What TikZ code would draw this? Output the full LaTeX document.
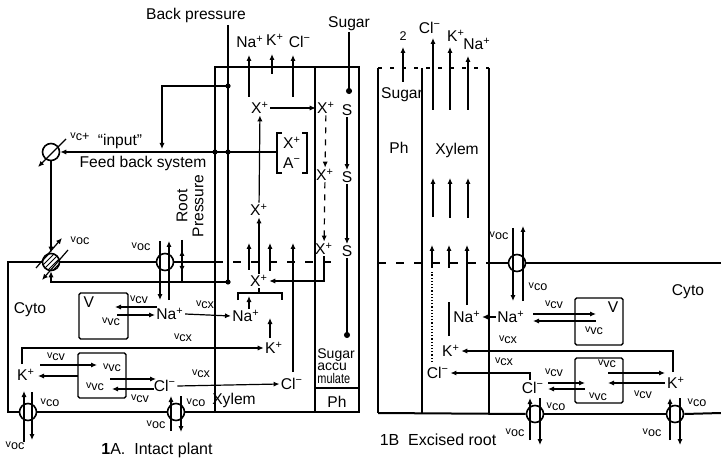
\documentclass[tikz,border=0pt]{standalone}
\usepackage{fontspec}
\setmainfont{Liberation Sans}
\usetikzlibrary{arrows.meta,positioning,calc}

\tikzset{
  wall/.style={line width=1pt},
  flow/.style={line width=0.6pt,-{Latex[length=3pt,width=2.6pt]}},
  chan/.style={circle,draw,line width=0.8pt,minimum size=8.5pt,inner sep=0pt},
  vac/.style={draw,line width=0.7pt,rounded corners=0.8pt},
  lbl/.style={font=\fontsize{7.8}{8}\selectfont,inner sep=0.5pt},
  ion/.style={font=\fontsize{7.8}{8}\selectfont,inner sep=0.5pt},
  flux/.style={font=\fontsize{6.3}{7}\selectfont,inner sep=0.3pt},
}
\newcommand{\fx}[1]{\raisebox{0.35ex}{\scalebox{0.85}{v}}#1}
\newcommand{\pls}{\textsuperscript{+}}
\newcommand{\mns}{\textsuperscript{−}}

\begin{document}
\begin{tikzpicture}[x=0.5pt,y=-0.5pt]
\useasboundingbox (0,0) rectangle (721,464);

% ---------------- 1A: intact plant ----------------
% stele: xylem and phloem
\draw[wall] (215,412) -- (215,67) -- (359,67) -- (359,412) -- cycle;
\draw[wall] (315,67) -- (315,412);
\draw[line width=0.6pt] (315,388) -- (359,388);

% plasmalemma with carriers
\node[chan] (cF) at (51,152) {};
\node[chan] (cL) at (51,262) {};
\node[chan] (cNa) at (165,262) {};
\node[chan] (cK) at (28,412) {};
\node[chan] (cCl) at (176,412) {};
\draw[wall] (cL.west) -- (8,262) -- (8,412) -- (cK.west);
\draw[wall] (cL.east) -- (cNa.west);
\draw[wall] (cNa.east) -- (215,262);
\draw[wall,dash pattern=on 4pt off 5pt] (215,262) -- (335,262);
\draw[wall] (cK.east) -- (cCl.west);
\draw[wall] (cCl.east) -- (215,412);

% back pressure and feed back
\node[lbl] (bp) at (196,15) {Back pressure};
\draw[wall] (228,25) -- (228,282);
\foreach \y in {86,152,282} \fill (228,\y) circle (1.3pt);
\fill (215,152) circle (1.3pt);
\draw[flow] (228,86) -- (162,86) -- (162,149);
\draw[flow,line width=0.8pt] (277,152) -- (cF.east);
\node[ion] (xa1) at (292,143) {X\pls};
\node[ion] (aa1) at (292,163) {A\mns};
\draw[line width=0.7pt] (282,133) -- (277,133) -- (277,173) -- (282,173);
\draw[line width=0.7pt] (302,133) -- (307,133) -- (307,173) -- (302,173);
\draw[flow] (66,139) -- (38,167);
\node[flux] (fcp) at (80,137) {\fx{c+}};
\node[lbl] (inp) at (120,141) {``input''};
\node[lbl] (fbs) at (143,163) {Feed back system};
\draw[flow] (cF.south) -- (cL.north);

% hatched carrier
\begin{scope}
  \clip (cL.center) circle (4.25pt);
  \foreach \d in {-10,-5,0,5,10}
    \draw[line width=0.5pt] ($(cL.center)+(\d-12,12)$) -- ++(24,-24);
\end{scope}
\draw[flow] (36,268) -- (62,238);
\draw[flow] (68,250) -- (42,280);
\node[flux] (foc1) at (80,241) {\fx{oc}};

% root pressure
\node[lbl,rotate=90,align=center] (rp) at (190,206) {Root\\Pressure};
\draw[line width=0.6pt] (182,240) -- (182,282);
\draw[flow] (182,262) -- (182,250);
\draw[flow] (182,262) -- (182,272);
\draw[flow] (228,282) -- (51,282) -- (cL.south);

% Na+ uptake
\draw[flow] (160,241) -- (160,300);
\draw[flow] (169,300) -- (169,241);
\node[flux] (foc2) at (141,247) {\fx{oc}};
\node[lbl] (cyto1) at (30,310) {Cyto};
\node[ion] (naC) at (170,314) {Na\pls};
\node[ion] (naX) at (246,316) {Na\pls};
\draw[flow] (naC.east) -- (naX.west);
\node[flux] (fcx1) at (205,305) {\fx{cx}};

% vacuole, Na+
\node[vac,minimum width=24.5pt,minimum height=23pt] (vac1) at (103.5,316) {};
\node[lbl,anchor=north west] (v1) at ($(vac1.north west)+(4,3)$) {V};
\draw[flow] (157,307) -- (115,307);
\draw[flow] (117,315) -- (155,315);
\node[flux] (fcv1) at (139,300) {\fx{cv}};
\node[flux] (fvc1) at (111,322) {\fx{vc}};

% K+ and Cl-
\node[ion] (kC) at (26,375) {K\pls};
\node[ion] (kX) at (274,348) {K\pls};
\draw[flow] (22,364) |- (kX.west);
\node[flux] (fcx2) at (183,338) {\fx{cx}};
\node[vac,minimum width=24pt,minimum height=22.5pt] (vac2) at (102,375.5) {};
\draw[flow] (40,365) -- (97,365);
\draw[flow] (78,376) -- (38,376);
\node[flux] (fcv2) at (56,357) {\fx{cv}};
\node[flux] (fvc2) at (112,368) {\fx{vc}};
\draw[flow] (110,379) -- (156,379);
\draw[flow] (154,389) -- (112,389);
\node[flux] (fvc3) at (95,387) {\fx{vc}};
\node[flux] (fcv3) at (140,399) {\fx{cv}};
\node[ion] (clC) at (165,386) {Cl\mns};
\node[ion] (clX) at (292,384) {Cl\mns};
\draw[flow] (clC.east) -- (clX.west);
\node[flux] (fcx3) at (201,374) {\fx{cx}};

% carriers at the bottom
\draw[flow] (24,442) -- (24,391);
\draw[flow] (32,392) -- (32,440);
\node[flux] (fco1) at (50,403) {\fx{co}};
\node[flux] (foc3) at (15,446) {\fx{oc}};
\draw[flow] (171,431) -- (171,396);
\draw[flow] (181,396) -- (181,432);
\node[flux] (foc4) at (156,425) {\fx{oc}};
\node[flux] (fco2) at (196,403) {\fx{co}};

% xylem and phloem contents
\node[ion] (naT) at (250,42) {Na\pls};
\node[ion] (kT) at (275,40) {K\pls};
\node[ion] (clT) at (300,42) {Cl\mns};
\node[lbl] (sugT) at (349,24) {Sugar};
\draw[flow] (249,97) -- (249,55);
\draw[flow] (272,74) -- (272,54);
\draw[flow] (293,97) -- (293,55);
\draw[-{Circle[length=3pt]},line width=0.8pt] (sugT.south) -- (349,94);

\node[ion] (xT) at (260,108) {X\pls};
\node[ion] (xR1) at (326,108) {X\pls};
\node[ion] (sA) at (347,110) {S};
\node[ion] (xM) at (259,210) {X\pls};
\node[ion] (xR2) at (325,175) {X\pls};
\node[ion] (sB) at (347,177) {S};
\node[ion] (xR3) at (324,249) {X\pls};
\node[ion] (sC) at (347,251) {S};
\node[ion] (xB) at (259,281) {X\pls};
\draw[flow] (xT) -- (xR1);
\draw[flow,dashed] (xR1) -- (xR2);
\draw[flow,dashed] (xR2) -- (xR3);
\draw[flow] (sA) -- (sB);
\draw[flow] (sB) -- (sC);
\draw[-{Circle[length=3pt]},line width=0.6pt] (sC) -- (347,338);
\draw[flow] (xM) -- (xT);
\draw[flow] (xB) -- (xM);
\draw[flow] (xR3.south) |- (xB.east);
\draw[line width=0.6pt] (238,300) -- (238,293) -- (282,293) -- (282,300);
\draw[line width=0.6pt] (259,293) -- (xB.south);
\draw[flow] (249,309) -- (249,296);
\draw[flow] (270,338) -- (270,318);
\draw[flow] (249,270) -- (249,243);
\draw[flow] (270,271) -- (270,243);
\draw[flow] (293,372) -- (293,243);

\node[lbl] (xyl1) at (234,400) {Xylem};
\node[lbl] (ph1) at (337,402) {Ph};
\node[lbl,align=left,anchor=north west,font=\fontsize{7}{6.3}\selectfont] (acc) at (316,347) {Sugar\\accu\\\scalebox{0.78}[1]{mulate}};
\node[lbl,font=\fontsize{8}{9}\selectfont] (t1) at (157,450) {\textbf{1}A. \ Intact plant};

% ---------------- 1B: excised root ----------------
\draw[wall] (378,68) -- (378,413);
\draw[wall] (422,68) -- (422,413);
\draw[wall] (489,68) -- (489,413);
\draw[line width=0.6pt,dash pattern=on 2pt off 4pt] (378,68) -- (489,68);
\node[chan] (cNa2) at (517,263) {};
\node[chan] (cCl2) at (535,414) {};
\node[chan] (cK2) at (675,414) {};
\draw[wall,dash pattern=on 4pt off 5pt] (378,263) -- (489,263);
\draw[wall] (489,263) -- (cNa2.west);
\draw[wall] (cNa2.east) -- (721,263);
\draw[wall] (378,413) -- (cCl2.west);
\draw[wall] (cCl2.east) -- (cK2.west);
\draw[wall] (cK2.east) -- (721,413);

% exudate
\node[flux] (two) at (403,36) {2};
\draw[flow] (403,82) -- (403,47);
\node[ion] (clT2) at (430,28) {Cl\mns};
\node[ion] (kT2) at (456,36) {K\pls};
\node[ion] (naT2) at (477,44) {Na\pls};
\draw[flow] (433,110) -- (433,38);
\draw[flow] (450,110) -- (450,47);
\draw[flow] (468,110) -- (468,56);
\draw[flow] (433,217) -- (433,178);
\draw[flow] (450,218) -- (450,178);
\draw[flow] (468,218) -- (468,178);
\node[lbl] (sug2) at (402,95) {Sugar};
\node[lbl] (ph2) at (399,148) {Ph};
\node[lbl] (xyl2) at (457,150) {Xylem};

\draw[flow] (432,268) -- (432,245);
\draw[flow] (449,268) -- (449,245);
\draw[flow] (467,305) -- (467,245);
\draw[line width=0.6pt,densely dotted] (432,362) -- (432,272);
\draw[line width=0.6pt] (449,336) -- (449,302);
\node[ion] (naX2) at (467,317) {Na\pls};
\node[ion] (kX2) at (451,351) {K\pls};
\node[ion] (clX2) at (438,373) {Cl\mns};

% cortex cell
\draw[flow] (513,228) -- (513,301);
\draw[flow] (523,301) -- (523,226);
\node[flux] (foc5) at (499,236) {\fx{oc}};
\node[flux] (fco3) at (538,287) {\fx{co}};
\node[lbl] (cyto2) at (688,292) {Cyto};
\node[ion] (naC2) at (511,317) {Na\pls};
\draw[flow] (naC2.west) -- (naX2.east);

\node[vac,minimum width=24pt,minimum height=23.5pt] (vac3) at (599,321.5) {};
\node[lbl,anchor=north east] (v3) at ($(vac3.north east)+(-4,3)$) {V};
\draw[flow] (533,314) -- (596,314);
\draw[flow] (596,321) -- (533,321);
\node[flux] (fcv4) at (554,305) {\fx{cv}};
\node[flux] (fvc4) at (594,331) {\fx{vc}};

\node[ion] (kC2) at (676,383) {K\pls};
\draw[flow] (673,372) |- (kX2.east);
\node[flux] (fcx4) at (508,340) {\fx{cx}};
\node[ion] (clC2) at (533,388) {Cl\mns};
\draw[flow] (530,380) |- (clX2.east);
\node[flux] (fcx5) at (504,362) {\fx{cx}};

\node[vac,minimum width=24pt,minimum height=22.5pt] (vac4) at (599,380.5) {};
\draw[flow] (548,383) -- (585,383);
\draw[flow] (585,389) -- (548,389);
\node[flux] (fcv5) at (554,373) {\fx{cv}};
\node[flux] (fvc5) at (598,397) {\fx{vc}};
\draw[flow] (608,373) -- (665,373);
\draw[flow] (665,383) -- (608,383);
\node[flux] (fvc6) at (607,364) {\fx{vc}};
\node[flux] (fcv6) at (643,395) {\fx{cv}};

\draw[flow] (530,440) -- (530,398);
\draw[flow] (540,398) -- (540,445);
\node[flux] (foc6) at (515,433) {\fx{oc}};
\node[flux] (fco4) at (556,407) {\fx{co}};
\draw[flow] (670,440) -- (670,398);
\draw[flow] (680,398) -- (680,445);
\node[flux] (foc7) at (652,433) {\fx{oc}};
\node[flux] (fco5) at (697,403) {\fx{co}};
\node[lbl,font=\fontsize{8}{9}\selectfont] (t2) at (438,440) {1B \ Excised root};
\end{tikzpicture}
\end{document}
